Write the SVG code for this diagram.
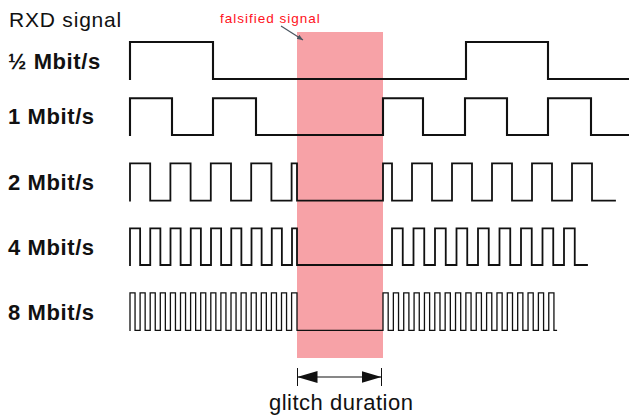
<svg xmlns="http://www.w3.org/2000/svg" width="629" height="417" viewBox="0 0 629 417">
<defs>
<style>
.lbl{font-family:"Liberation Sans",Arial,sans-serif;font-weight:bold;font-size:22px;fill:#111;letter-spacing:0.6px}
.sig{fill:none;stroke:#111;stroke-linejoin:miter;stroke-linecap:square}
.s1{stroke-width:2.1}
.s2{stroke-width:1.8}
.s3{stroke-width:1.3}
.txt{font-family:"Liberation Sans",Arial,sans-serif;fill:#111}
</style>
<marker id="dimArrow" markerUnits="userSpaceOnUse" markerWidth="20" markerHeight="12" viewBox="0 0 20 12" refX="20" refY="6" orient="auto-start-reverse">
<path d="M0,0 L20,6 L0,12 Z" fill="#111"/>
</marker>
<marker id="leadArrow" markerUnits="userSpaceOnUse" markerWidth="6" markerHeight="5" viewBox="0 0 6 5" refX="6" refY="2.5" orient="auto">
<path d="M0,0 L6,2.5 L0,5 Z" fill="#4a5560"/>
</marker>
</defs>
<rect width="629" height="417" fill="#ffffff"/>

<g id="glitch-zone">
<rect x="297" y="32" width="86" height="326" fill="#f7a2a7"/>
</g>

<g id="title">
<text class="txt" x="9" y="26.5" font-size="21" letter-spacing="0.8">RXD signal</text>
</g>

<g id="falsified-label">
<text x="220" y="23" font-family="'Liberation Sans',Arial,sans-serif" font-size="13.5" fill="#ff1020" letter-spacing="1">falsified signal</text>
</g>

<g id="row-half">
<text class="lbl" x="8" y="68.5">½ Mbit/s</text>
<path class="sig s1" d="M130,79 V42 H213 V79 H466 V42 H548 V79 H629"/>
</g>

<g id="row-1">
<text class="lbl" x="8" y="124">1 Mbit/s</text>
<path class="sig s1" d="M130,135 V98.3 H172 V135 H213 V98.3 H256 V135 H383 V98.3 H423 V135 H465 V98.3 H507 V135 H548 V98.3 H591 V135 H629"/>
</g>

<g id="row-2">
<text class="lbl" x="8" y="189.5">2 Mbit/s</text>
<path class="sig s2" d="M130,200.7 v-37.4h20.2v37.4h20.2 v-37.4h20.2v37.4h20.2 v-37.4h20.2v37.4h20.2 v-37.4h20.2v37.4h20.2 v-37.4 H297 v37.4 H383 v-37.4 H392 v37.4 h20v-37.4h20v37.4 h20v-37.4h20v37.4 h20v-37.4h20v37.4 h20v-37.4h20v37.4 h20v-37.4h20v37.4 H615"/>
</g>

<g id="row-4">
<text class="lbl" x="8" y="254.5">4 Mbit/s</text>
<path class="sig s2" d="M130,265 v-36.7h10.125v36.7h10.125 v-36.7h10.125v36.7h10.125 v-36.7h10.125v36.7h10.125 v-36.7h10.125v36.7h10.125 v-36.7h10.125v36.7h10.125 v-36.7h10.125v36.7h10.125 v-36.7h10.125v36.7h10.125 v-36.7h10.125v36.7h10.125 v-36.7 H297 v36.7 H392 v-36.7h10.75v36.7h10.75 v-36.7h10.75v36.7h10.75 v-36.7h10.75v36.7h10.75 v-36.7h10.75v36.7h10.75 v-36.7h10.75v36.7h10.75 v-36.7h10.75v36.7h10.75 v-36.7h10.75v36.7h10.75 v-36.7h10.75v36.7h10.75 v-36.7h10.75v36.7 H587"/>
</g>

<g id="row-8">
<text class="lbl" x="8" y="319.5">8 Mbit/s</text>
<path class="sig s3" d="M130,330.3 v-37.5h5.05v37.5h5.05 v-37.5h5.05v37.5h5.05 v-37.5h5.05v37.5h5.05 v-37.5h5.05v37.5h5.05 v-37.5h5.05v37.5h5.05 v-37.5h5.05v37.5h5.05 v-37.5h5.05v37.5h5.05 v-37.5h5.05v37.5h5.05 v-37.5h5.05v37.5h5.05 v-37.5h5.05v37.5h5.05 v-37.5h5.05v37.5h5.05 v-37.5h5.05v37.5h5.05 v-37.5h5.05v37.5h5.05 v-37.5h5.05v37.5h5.05 v-37.5h5.05v37.5h5.05 v-37.5h5.05v37.5h5.05 v-37.5 H297 v37.5 H383 v-37.5h5.18v37.5h5.18 v-37.5h5.18v37.5h5.18 v-37.5h5.18v37.5h5.18 v-37.5h5.18v37.5h5.18 v-37.5h5.18v37.5h5.18 v-37.5h5.18v37.5h5.18 v-37.5h5.18v37.5h5.18 v-37.5h5.18v37.5h5.18 v-37.5h5.18v37.5h5.18 v-37.5h5.18v37.5h5.18 v-37.5h5.18v37.5h5.18 v-37.5h5.18v37.5h5.18 v-37.5h5.18v37.5h5.18 v-37.5h5.18v37.5h5.18 v-37.5h5.18v37.5h5.18 v-37.5h5.18v37.5h5.18 v-37.5h5.18v37.5 h2.5"/>
</g>

<g id="glitch-duration">
<text class="txt" x="269" y="409.5" font-size="22" letter-spacing="0.5">glitch duration</text>
</g>

<g id="connectors">
<line x1="281" y1="26" x2="303" y2="40" stroke="#4a5560" stroke-width="1.2" marker-end="url(#leadArrow)"/>
<line x1="297.5" y1="368" x2="297.5" y2="386" stroke="#111" stroke-width="1"/>
<line x1="381.5" y1="368" x2="381.5" y2="386" stroke="#111" stroke-width="1"/>
<line x1="297.5" y1="377" x2="381.5" y2="377" stroke="#111" stroke-width="1.2" marker-start="url(#dimArrow)" marker-end="url(#dimArrow)"/>
</g>
</svg>
